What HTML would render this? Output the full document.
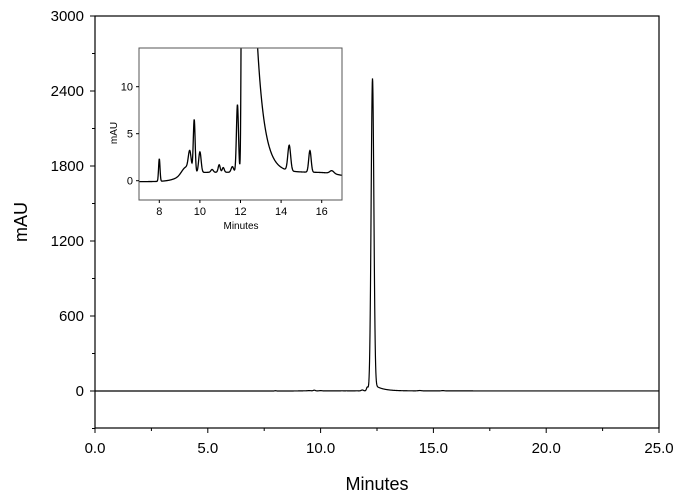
<!DOCTYPE html>
<html><head><meta charset="utf-8"><style>
body{margin:0;background:#fff;}
svg{display:block;font-family:"Liberation Sans",Arial,sans-serif;}
</style></head><body>
<svg id="s" width="690" height="497" viewBox="0 0 690 497">
<defs>
<clipPath id="cm"><rect x="95" y="16" width="564" height="412"/></clipPath>
<clipPath id="ci"><rect x="139" y="48" width="203" height="152"/></clipPath>
</defs>
<rect x="0" y="0" width="690" height="497" fill="#fff"/>
</svg>
<script>
var s=document.getElementById('s'),NS='http://www.w3.org/2000/svg';
function el(t,a,txt){var e=document.createElementNS(NS,t);for(var k in a)e.setAttribute(k,a[k]);if(txt!==undefined)e.textContent=txt;s.appendChild(e);return e;}
function g(t,c,h,w){return h*Math.exp(-0.5*Math.pow((t-c)/w,2));}
function sig(t){
 var b=-0.1+1.0/(1+Math.exp(-(t-9.0)/0.3))-0.5/(1+Math.exp(-(t-16.8)/0.3));
 var y=b;
 y+=g(t,8.0,2.4,0.035);y+=g(t,9.5,2.0,0.07);y+=g(t,9.72,5.6,0.045);y+=g(t,10.0,2.2,0.06);
 y+=g(t,9.3,0.8,0.2);y+=g(t,10.6,0.3,0.06);y+=g(t,10.95,0.8,0.05);y+=g(t,11.15,0.5,0.05);
 y+=g(t,11.6,0.6,0.06);y+=g(t,11.85,7.2,0.05);y+=g(t,12.07,30,0.035);
 y+=g(t,12.3,2500,0.06);
 if(t>12.3)y+=60*Math.exp(-(t-12.3)/0.36)*(1-Math.exp(-(t-12.3)/0.05));
 y+=g(t,14.4,2.7,0.07);y+=g(t,15.42,2.3,0.06);y+=g(t,16.5,0.3,0.1);
 return y;
}
var X=function(t){return 95+t*564/25},Y=function(v){return 391-v*0.125};
var d='';for(var t=0;t<=25;t+=0.01){d+=(t?'L':'M')+X(t).toFixed(2)+','+Y(sig(t)).toFixed(2);}
el('path',{d:d,fill:'none',stroke:'#000','stroke-width':1.2,'clip-path':'url(#cm)'});
el('rect',{x:95,y:16,width:564,height:412,fill:'none',stroke:'#000','stroke-width':1.2});
[0,5,10,15,20,25].forEach(function(v){var x=X(v);el('line',{x1:x,y1:428,x2:x,y2:433,stroke:'#000'});
 el('text',{x:x,y:453,'font-size':15,'text-anchor':'middle'},v.toFixed(1));});
[2.5,7.5,12.5,17.5,22.5].forEach(function(v){var x=X(v);el('line',{x1:x,y1:428,x2:x,y2:431,stroke:'#000'});});
[0,600,1200,1800,2400,3000].forEach(function(v){var y=Y(v);el('line',{x1:90,y1:y,x2:95,y2:y,stroke:'#000'});
 el('text',{x:84,y:y+5,'font-size':15,'text-anchor':'end'},v);});
[-300,300,900,1500,2100,2700].forEach(function(v){var y=Y(v);el('line',{x1:92,y1:y,x2:95,y2:y,stroke:'#000'});});
el('text',{x:377,y:490,'font-size':18,'text-anchor':'middle'},'Minutes');
el('text',{x:27,y:222,'font-size':18,'text-anchor':'middle',transform:'rotate(-90 27 222)'},'mAU');
var XI=function(t){return 139+(t-7)*20.3},YI=function(v){return 180.7-v*9.4};
d='';for(var t=7;t<=17;t+=0.01){d+=(t>7?'L':'M')+XI(t).toFixed(2)+','+YI(sig(t)).toFixed(2);}
el('path',{d:d,fill:'none',stroke:'#000','stroke-width':1.3,'clip-path':'url(#ci)'});
el('rect',{x:139,y:48,width:203,height:152,fill:'none',stroke:'#555','stroke-width':1});
[8,10,12,14,16].forEach(function(v){var x=XI(v);el('line',{x1:x,y1:200,x2:x,y2:203,stroke:'#000'});
 el('text',{x:x,y:215,'font-size':11,'text-anchor':'middle'},v);});
[0,5,10].forEach(function(v){var y=YI(v);el('line',{x1:136,y1:y,x2:139,y2:y,stroke:'#000'});
 el('text',{x:133,y:y+4,'font-size':11,'text-anchor':'end'},v);});
el('text',{x:241,y:229,'font-size':10,'text-anchor':'middle'},'Minutes');
el('text',{x:117,y:133,'font-size':10,'text-anchor':'middle',transform:'rotate(-90 117 133)'},'mAU');
</script>
</body></html>
